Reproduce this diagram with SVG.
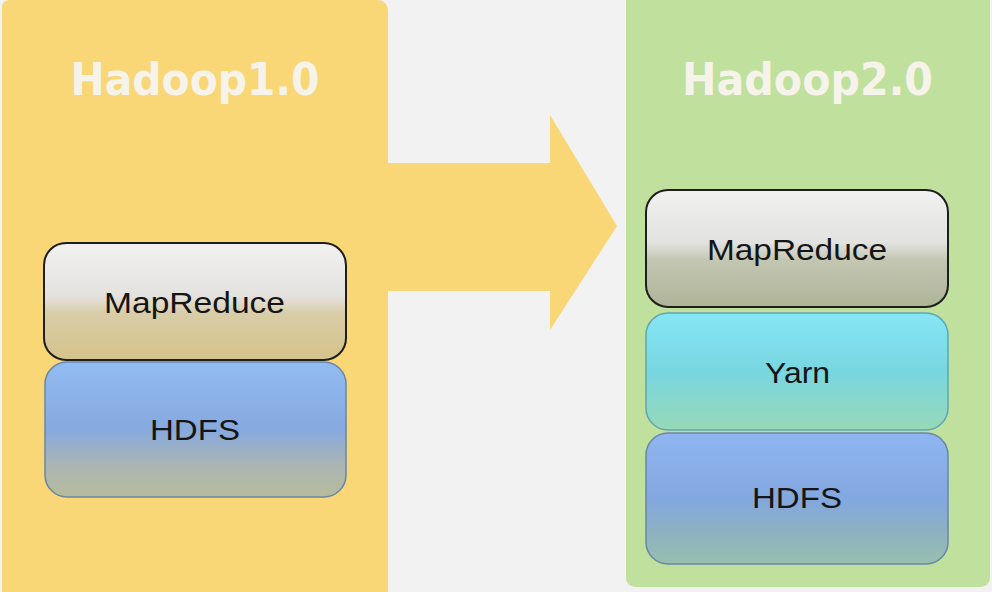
<svg xmlns="http://www.w3.org/2000/svg" width="992" height="592" viewBox="0 0 992 592">
<defs>
<style>
.title{font-family:"DejaVu Sans",Verdana,sans-serif;font-weight:bold;font-size:44px;fill:#f6f3ea;text-anchor:middle}
.lbl{font-family:"Liberation Sans",Arial,sans-serif;font-size:29px;fill:#151515;text-anchor:middle}
.mr{stroke:#1e1e1e;stroke-width:2}
.soft{stroke:#6a86a6;stroke-width:1.5}
.softy{stroke:#5fa6b0;stroke-width:1.5}
</style>
<linearGradient id="mrL" x1="0" y1="0" x2="0" y2="1">
<stop offset="0" stop-color="#f1f1f1"/>
<stop offset="0.45" stop-color="#e4e2de"/>
<stop offset="0.6" stop-color="#d9cda8"/>
<stop offset="1" stop-color="#d5c38a"/>
</linearGradient>
<linearGradient id="mrR" x1="0" y1="0" x2="0" y2="1">
<stop offset="0" stop-color="#f1f1f1"/>
<stop offset="0.45" stop-color="#e2e2e0"/>
<stop offset="0.6" stop-color="#c3c6b2"/>
<stop offset="1" stop-color="#aeb497"/>
</linearGradient>
<linearGradient id="hdL" x1="0" y1="0" x2="0" y2="1">
<stop offset="0" stop-color="#92bcf2"/>
<stop offset="0.5" stop-color="#86a9df"/>
<stop offset="0.75" stop-color="#a9b5b4"/>
<stop offset="1" stop-color="#b8bb9c"/>
</linearGradient>
<linearGradient id="hdR" x1="0" y1="0" x2="0" y2="1">
<stop offset="0" stop-color="#8fb6f2"/>
<stop offset="0.5" stop-color="#83a7df"/>
<stop offset="0.75" stop-color="#8cb1c2"/>
<stop offset="1" stop-color="#98c0ae"/>
</linearGradient>
<linearGradient id="yn" x1="0" y1="0" x2="0" y2="1">
<stop offset="0" stop-color="#86e6f6"/>
<stop offset="0.5" stop-color="#78d6e0"/>
<stop offset="1" stop-color="#97d9b8"/>
</linearGradient>
</defs>
<rect width="992" height="592" fill="#f2f2f2"/>

<g id="panel-hadoop1">
<path d="M2,8 Q2,0 10,0 L376,0 Q388,0 388,12 L388,592 L2,592 Z" fill="#f9d776"/>
<text class="title" x="195" y="95" textLength="249" lengthAdjust="spacingAndGlyphs">Hadoop1.0</text>
</g>

<g id="panel-hadoop2">
<path d="M626,0 L990,0 L990,576 Q990,587 979,587 L637,587 Q626,587 626,576 Z" fill="#c0e09e"/>
<text class="title" x="807.5" y="95" textLength="251" lengthAdjust="spacingAndGlyphs">Hadoop2.0</text>
</g>

<g id="connectors">
<path d="M388,163 L550,163 L550,115 L617,226 L550,330 L550,291 L388,291 Z" fill="#f9d776"/>
</g>

<g id="mapreduce1">
<rect x="44" y="243" width="302" height="117" rx="22" fill="url(#mrL)" class="mr"/>
<text class="lbl" x="194.5" y="313" textLength="181" lengthAdjust="spacingAndGlyphs">MapReduce</text>
</g>

<g id="hdfs1">
<rect x="45" y="362" width="301" height="135" rx="22" fill="url(#hdL)" class="soft"/>
<text class="lbl" x="195" y="440" textLength="90" lengthAdjust="spacingAndGlyphs">HDFS</text>
</g>

<g id="mapreduce2">
<rect x="646" y="190" width="302" height="117" rx="22" fill="url(#mrR)" class="mr"/>
<text class="lbl" x="797" y="260" textLength="180" lengthAdjust="spacingAndGlyphs">MapReduce</text>
</g>

<g id="yarn">
<rect x="646" y="313" width="302" height="117" rx="22" fill="url(#yn)" class="softy"/>
<text class="lbl" x="797.5" y="383" textLength="65" lengthAdjust="spacingAndGlyphs">Yarn</text>
</g>

<g id="hdfs2">
<rect x="646" y="433" width="302" height="131" rx="22" fill="url(#hdR)" class="soft"/>
<text class="lbl" x="797" y="508" textLength="90" lengthAdjust="spacingAndGlyphs">HDFS</text>
</g>
</svg>
